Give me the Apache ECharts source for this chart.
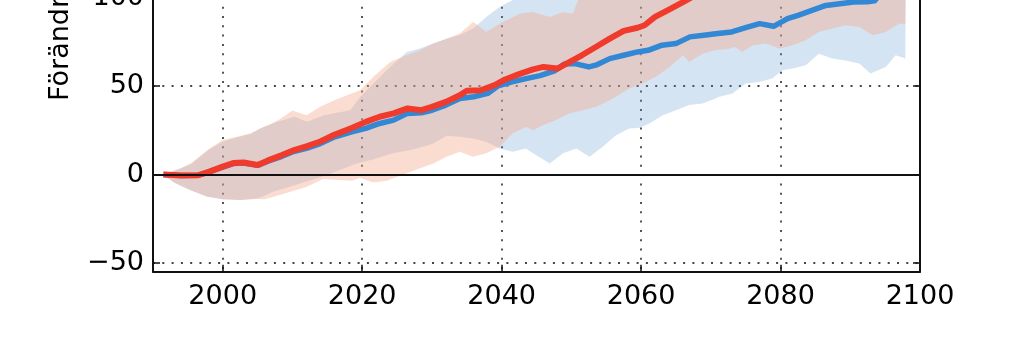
<!DOCTYPE html>
<html>
<head>
<meta charset="utf-8">
<script src="https://cdn.jsdelivr.net/npm/echarts@6/dist/echarts.min.js"></script>
<style>
  html, body { margin: 0; padding: 0; background: #fff; overflow: hidden; width: 1024px; height: 342px; }
  /* the plot box runs on above the visible frame, so the canvas is taller and shifted up */
  #chart { position: absolute; left: 0; top: -170px; width: 1024px; height: 512px; }
</style>
</head>
<body>
<div id="chart"></div>
<script>
// Median curves (change relative to the start of the period)
const blueYears = [1991.5, 1994, 1996.5, 1998, 2000, 2001.5, 2003, 2005, 2006.5, 2008.5, 2010, 2012, 2014, 2016, 2018.5, 2020.5, 2022.5, 2024.5, 2026.5, 2028.5, 2030, 2032, 2034, 2036, 2038, 2039.5, 2041.5, 2043.5, 2045.5, 2047.5, 2049, 2050.5, 2052.5, 2053.5, 2055.5, 2057.5, 2059.5, 2061, 2063, 2065, 2067, 2069, 2071, 2073, 2075, 2077, 2079, 2081, 2082.5, 2084.5, 2086.5, 2088.5, 2090.5, 2092.5, 2093.5, 2094.5];
const blueMedian = [0, -0.6, -0.4, 1.5, 4.2, 6.2, 6.5, 5.2, 7.6, 10.3, 12.8, 14.8, 17.5, 21.2, 24.2, 26.1, 28.9, 30.8, 34.6, 34.9, 36.4, 39.3, 43.0, 44.0, 45.9, 50.2, 52.4, 54.3, 56.0, 58.5, 62.5, 62.8, 60.9, 61.9, 65.6, 67.5, 69.4, 70.3, 73.2, 74.1, 77.9, 78.8, 79.8, 80.7, 83.1, 85.4, 83.9, 88.2, 90.1, 92.9, 95.7, 96.7, 97.6, 97.8, 98.3, 103];

const redYears = [1991.5, 1994, 1996.5, 1998, 2000, 2001.5, 2003, 2005, 2006.5, 2008.5, 2010, 2012, 2014, 2016, 2018.5, 2020.5, 2022.5, 2024.5, 2026.5, 2028.5, 2030, 2032, 2034, 2035, 2037, 2039, 2040.5, 2042.5, 2044.5, 2046, 2048, 2049.5, 2051.5, 2053.5, 2055.5, 2057.5, 2059.5, 2060.5, 2062, 2064, 2066, 2068, 2070];
const redMedian = [0, -0.6, -0.4, 1.5, 4.5, 6.5, 6.8, 5.4, 8.0, 11.0, 13.5, 15.9, 18.7, 22.5, 26.3, 29.8, 32.7, 34.6, 37.4, 36.4, 38.3, 41.1, 44.9, 47.4, 47.7, 50.6, 53.8, 56.8, 59.5, 60.9, 60.0, 63.2, 67.5, 72.2, 76.9, 81.3, 83.1, 84.5, 89.2, 93.3, 97.6, 102, 106];

// Spread of the blue ensemble
const blueUpperYears = [1991.5, 1994, 1995.5, 1998, 2000, 2002, 2004, 2005.3, 2008, 2010.3, 2012.1, 2014.5, 2016.4, 2018.3, 2019.7, 2021.6, 2024, 2026.4, 2028.3, 2030.2, 2032.1, 2034, 2035.9, 2037.8, 2039.7, 2041.5, 2043, 2050, 2060, 2070, 2080, 2090, 2098];
const blueUpper = [0, 3.5, 6.0, 14.0, 18.5, 21.0, 23.0, 26.0, 30.0, 32.7, 29.9, 33.6, 35.0, 36.4, 43.9, 51.5, 60.9, 69.4, 71.3, 74.1, 76.9, 79.0, 82.6, 89.2, 94.8, 98.6, 103, 115, 125, 135, 145, 155, 160];
const blueLowerYears = [1991.5, 1993, 1995.3, 1997.7, 2000, 2002.5, 2004.9, 2006, 2007.2, 2009.6, 2012, 2014.4, 2016.8, 2019.2, 2021.5, 2024.4, 2026.4, 2028.5, 2030.2, 2032.1, 2034, 2035.9, 2037.8, 2039.7, 2041.6, 2043.5, 2044.5, 2046.9, 2048.8, 2050.7, 2052.6, 2054.5, 2056.4, 2058.3, 2059.8, 2061.2, 2063.1, 2065, 2066.9, 2068.8, 2070.7, 2071.2, 2073.1, 2075, 2076.9, 2078.8, 2080.3, 2081.7, 2083.6, 2085.5, 2087.4, 2089.3, 2091.3, 2092.9, 2095.1, 2096.5, 2097.9];
const blueLower = [0, -4.5, -8.8, -12.5, -14.0, -14.4, -13.5, -12.0, -9.7, -6.9, -4.0, -1.0, 2.5, 6.3, 8.5, 12.0, 13.5, 15.5, 17.6, 22.0, 21.4, 20.4, 18.5, 14.8, 12.9, 14.8, 12.0, 6.3, 12.0, 14.8, 10.0, 15.7, 22.3, 26.1, 26.5, 28.9, 33.6, 36.4, 39.3, 40.2, 43.0, 44.0, 45.9, 51.5, 52.4, 54.3, 59.0, 60.0, 61.9, 68.4, 65.6, 64.6, 62.8, 57.2, 60.9, 67.5, 65.6];

// Spread of the red ensemble
const redUpperYears = [1991.5, 1994, 1995.5, 1998, 2000, 2002, 2004, 2006, 2008, 2010, 2012, 2014, 2016, 2018.5, 2019.7, 2021.6, 2024, 2026.4, 2028.3, 2030.2, 2032.1, 2034, 2035.9, 2036.9, 2037.8, 2039.7, 2042.6, 2044.5, 2046.9, 2048.8, 2050.2, 2051, 2052, 2060, 2070, 2080, 2090, 2098];
const redUpper = [0, 3.5, 6.5, 14.5, 19.5, 21.4, 23.3, 27.0, 30.8, 36.3, 33.6, 38.3, 42.1, 45.9, 47.7, 55.3, 63.7, 67.5, 70.3, 74.1, 76.9, 79.8, 86.3, 83.5, 80.7, 85.4, 91.0, 92.0, 89.2, 92.0, 91.0, 99, 104, 120, 135, 150, 165, 170];
const redLowerYears = [1991.5, 1993, 1995.3, 1997.7, 2000, 2002.5, 2004.9, 2006, 2007.2, 2009.6, 2012, 2014.4, 2016, 2018.5, 2019.7, 2021.6, 2023.5, 2026.4, 2028.3, 2030.2, 2032.1, 2034, 2035.9, 2037.8, 2039.7, 2041.6, 2043.5, 2044.5, 2046, 2047.8, 2049.7, 2051.6, 2053.6, 2055, 2056.4, 2058.3, 2060.2, 2062.1, 2064.1, 2066, 2066.9, 2068.8, 2070.7, 2072.5, 2073.5, 2074.5, 2076, 2077.9, 2079.8, 2081.7, 2083.6, 2085.5, 2087.4, 2089.3, 2091.3, 2093.2, 2095.1, 2097, 2097.9];
const redLower = [0, -4.5, -8.8, -12.5, -14.0, -14.4, -13.8, -14.0, -12.7, -9.9, -7.0, -2.5, -3.0, -3.5, -2.0, -4.5, -3.5, 0.7, 3.5, 6.3, 10.0, 12.9, 10.0, 12.0, 15.7, 23.3, 27.0, 25.0, 28.0, 30.8, 34.6, 36.4, 38.3, 41.1, 44.0, 48.7, 51.5, 55.3, 60.9, 67.5, 63.7, 68.4, 70.5, 71.0, 72.2, 69.4, 73.2, 74.1, 71.3, 73.2, 76.0, 80.7, 82.6, 84.5, 83.5, 78.8, 80.7, 85.4, 85.4];

const xTickYears = [2000, 2020, 2040, 2060, 2080, 2100];
const yTickValues = [-50, 0, 50, 100, 150];

const BLUE_LINE = '#3388d5';
const RED_LINE = '#ef3a2c';
const BLUE_BAND = 'rgba(87,147,207,0.25)';
const RED_BAND = 'rgba(245,167,137,0.4)';
const FONT = 'DejaVu Sans';

const pairs = (xs, ys) => xs.map((x, i) => [x, ys[i]]);

// Closed polygon: upper edge left to right, lower edge back right to left
function bandSeries(upYears, up, loYears, lo, color, z) {
  return {
    type: 'custom',
    coordinateSystem: 'cartesian2d',
    silent: true,
    z: z,
    clip: true,
    data: [[upYears[0], up[0]]],
    renderItem: function (params, api) {
      const pts = [];
      for (let i = 0; i < upYears.length; i++) pts.push(api.coord([upYears[i], up[i]]));
      for (let i = loYears.length - 1; i >= 0; i--) pts.push(api.coord([loYears[i], lo[i]]));
      return { type: 'polygon', shape: { points: pts }, style: { fill: color, stroke: null } };
    }
  };
}

const fmtNum = v => (v < 0 ? '\u2212' + Math.abs(v) : String(v));

const gridLine = { show: true, lineStyle: { color: '#444', width: 1.8, type: [2, 7.3] } };
const axisLine = { show: true, onZero: false, lineStyle: { color: '#111', width: 2 } };
const tick = { show: true, inside: true, length: 7, lineStyle: { color: '#111', width: 1.5 } };

const chart = echarts.init(document.getElementById('chart'), null, { renderer: 'canvas' });
chart.setOption({
  animation: false,
  backgroundColor: '#fff',
  grid: { left: 153, right: 104, top: 0, bottom: 70.3, containLabel: false },
  xAxis: [
    {
      type: 'value', min: 1990, max: 2100, splitNumber: 5,
      axisLine: axisLine, axisTick: tick, splitLine: gridLine,
      axisLabel: {
        fontFamily: FONT, fontSize: 27, color: '#000', margin: 12,
        showMinLabel: false,
        formatter: v => (xTickYears.indexOf(v) >= 0 ? String(v) : '')
      }
    },
    {
      type: 'value', position: 'top', min: 1990, max: 2100, splitNumber: 5,
      axisLine: axisLine, axisTick: tick, splitLine: { show: false }, axisLabel: { show: false }
    }
  ],
  yAxis: [
    {
      type: 'value', min: -55, max: 195, splitNumber: 5,
      axisLine: axisLine, axisTick: tick, splitLine: gridLine,
      axisLabel: {
        fontFamily: FONT, fontSize: 27, color: '#000', margin: 9,
        showMinLabel: false, showMaxLabel: false,
        formatter: v => (yTickValues.indexOf(v) >= 0 ? fmtNum(v) : '')
      }
    },
    {
      type: 'value', position: 'right', min: -55, max: 195, splitNumber: 5,
      axisLine: axisLine, axisTick: tick, splitLine: { show: false }, axisLabel: { show: false }
    }
  ],
  graphic: [
    {
      type: 'text', x: 61, y: 271, rotation: Math.PI / 2, silent: true,
      style: { text: 'Förändring (%)', fontFamily: FONT, fontSize: 27, fill: '#000', align: 'left', verticalAlign: 'middle' }
    }
  ],
  series: [
    bandSeries(blueUpperYears, blueUpper, blueLowerYears, blueLower, BLUE_BAND, 1),
    bandSeries(redUpperYears, redUpper, redLowerYears, redLower, RED_BAND, 2),
    {
      type: 'line', data: pairs(blueYears, blueMedian), showSymbol: false, silent: true, z: 3,
      lineStyle: { color: BLUE_LINE, width: 5.5, cap: 'butt', join: 'round' }
    },
    {
      type: 'line', data: pairs(redYears, redMedian), showSymbol: false, silent: true, z: 4,
      lineStyle: { color: RED_LINE, width: 6, cap: 'butt', join: 'round' },
      markLine: {
        silent: true, symbol: ['none', 'none'], label: { show: false }, animation: false,
        lineStyle: { color: '#111', width: 2, type: 'solid' },
        data: [{ yAxis: 0 }]
      }
    }
  ]
});
</script>
</body>
</html>
